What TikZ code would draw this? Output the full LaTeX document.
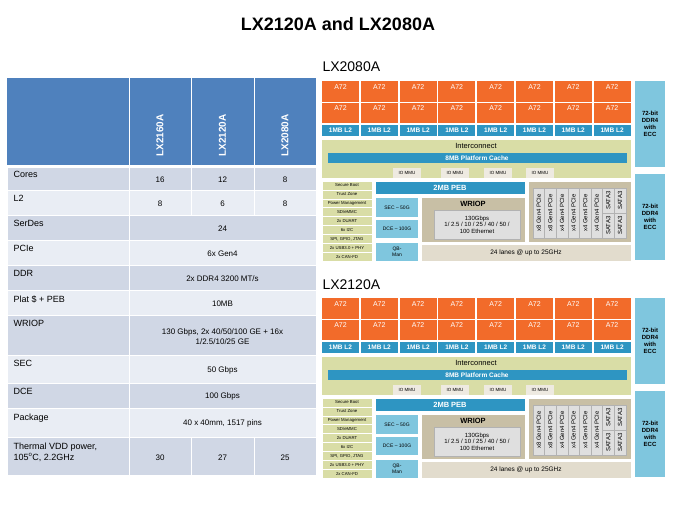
\documentclass[tikz,border=0pt]{standalone}
\usepackage{fontspec}
\setmainfont{Liberation Sans}
\definecolor{hdrblue}{HTML}{4F81BD}
\definecolor{rowdark}{HTML}{D0D7E5}
\definecolor{rowlight}{HTML}{E9EDF4}
\definecolor{coreorange}{HTML}{F26B2A}
\definecolor{cacheblue}{HTML}{2E95C2}
\definecolor{ddrblue}{HTML}{7FC6DE}
\definecolor{icgreen}{HTML}{D9DDA6}
\definecolor{iotan}{HTML}{C8BFA5}
\definecolor{lanegrey}{HTML}{E2DCCD}
\tikzset{
  cell/.style={draw=white, line width=1pt},
  wtxt/.style={text=white, font=\bfseries\fontsize{6.5}{7}\selectfont},
}
\newcommand{\chipblock}[1]{%
  \begin{scope}[yshift=#1]
    % cores and L2
    \foreach \i in {0,...,7} {
      \pgfmathsetmacro{\xa}{322+38.8*\i}
      \fill[coreorange] (\xa,81) rectangle ++(37,21);
      \fill[coreorange] (\xa,103) rectangle ++(37,20);
      \node[text=white, font=\fontsize{7}{8}\selectfont] at (\xa+18.5,87) {A72};
      \node[text=white, font=\fontsize{7}{8}\selectfont] at (\xa+18.5,108.5) {A72};
      \fill[cacheblue] (\xa,125) rectangle ++(37,11);
      \node[wtxt] at (\xa+18.5,130.5) {1MB L2};
    }
    % DDR
    \foreach \ya/\yb in {81/167, 174/260} {
      \fill[ddrblue] (635,\ya) rectangle (665,\yb);
      \node[align=center, font=\bfseries\fontsize{6}{7}\selectfont] at (650,{(\ya+\yb)/2}) {72-bit\\DDR4\\with\\ECC};
    }
    % interconnect
    \fill[icgreen] (322,140) rectangle (631,178);
    \node[font=\fontsize{7.5}{8}\selectfont] at (476,146) {Interconnect};
    \fill[cacheblue] (328,153) rectangle (627,163);
    \node[wtxt] at (477,158) {8MB Platform Cache};
    \foreach \xa in {393,441,484,526} {
      \fill[lanegrey!60] (\xa,168) rectangle ++(28,10);
      \node[font=\fontsize{4.5}{5}\selectfont] at (\xa+14,173) {IO MMU};
    }
    % left list
    \foreach \t [count=\k from 0] in {Secure Boot,Trust Zone,Power Management,SD/eMMC,2x DUART,6x I2C,{SPI, GPIO, JTAG},2x USB3.0 + PHY,2x CAN-FD} {
      \fill[icgreen, draw=white, line width=.6pt] (322,181+8.9*\k) rectangle ++(50,8.9);
      \node[font=\fontsize{4.3}{5}\selectfont] at (347,185.5+8.9*\k) {\t};
    }
    % PEB, SEC, DCE, QB
    \fill[cacheblue] (376,182) rectangle (525,194);
    \node[wtxt, font=\bfseries\fontsize{7.5}{8}\selectfont] at (450,188) {2MB PEB};
    \fill[ddrblue] (376,198) rectangle (418,217);
    \node[font=\fontsize{5}{6}\selectfont] at (397,207.5) {SEC -- 50G};
    \fill[ddrblue] (376,220) rectangle (418,238);
    \node[font=\fontsize{5}{6}\selectfont] at (397,229) {DCE -- 100G};
    \fill[ddrblue] (376,243) rectangle (418,261);
    \node[align=center, font=\fontsize{5}{6}\selectfont] at (397,252) {QB-\\Man};
    % WRIOP
    \fill[iotan] (422,198) rectangle (525,242);
    \node[font=\bfseries\fontsize{7.5}{8}\selectfont] at (473,203.5) {WRIOP};
    \fill[gray!25, draw=gray!60] (434,210) rectangle (520,239);
    \node[align=center, font=\fontsize{6}{6.5}\selectfont] at (477,224.5) {130Gbps\\1/ 2.5 / 10 / 25 / 40 / 50 /\\100 Ethernet};
    \fill[lanegrey] (422,245) rectangle (631,261);
    \node[font=\fontsize{6.5}{7}\selectfont] at (526,253) {24 lanes @ up to 25GHz};
    % PCIe / SATA
    \fill[iotan] (529,182) rectangle (631,242);
    \foreach \t [count=\k from 0] in {x8 Gen4 PCIe,x8 Gen4 PCIe,x4 Gen4 PCIe,x4 Gen4 PCIe,x4 Gen4 PCIe,x4 Gen4 PCIe} {
      \fill[gray!25, draw=gray!60] (533+11.6*\k,188) rectangle ++(11.6,50);
      \node[rotate=90, font=\fontsize{6}{7}\selectfont] at (538.8+11.6*\k,213) {\t};
    }
    \foreach \k in {6,7} {
      \foreach \ya in {188,213} {
        \fill[gray!25, draw=gray!60] (533+11.6*\k,\ya) rectangle ++(11.6,25);
        \node[rotate=90, font=\fontsize{6}{7}\selectfont] at (538.8+11.6*\k,\ya+12.5) {SATA3};
      }
    }
  \end{scope}}
\begin{document}
\begin{tikzpicture}[x=1pt, y=-1pt]
  \useasboundingbox (0,0) rectangle (675,506);
  \node[font=\bfseries\fontsize{18}{20}\selectfont] (title) at (338,24) {LX2120A and LX2080A};

  % table header
  \fill[hdrblue] (7,78) rectangle (316,165);
  \draw[white, line width=1pt] (129,78) -- (129,165) (191,78) -- (191,165) (254,78) -- (254,165);
  \foreach \x/\t in {160/LX2160A, 222.5/LX2120A, 285/LX2080A}
    \node[rotate=90, text=white, font=\bfseries\fontsize{10}{11}\selectfont, anchor=west] at (\x,160) {\t};

  % table rows
  \foreach \ya/\yb/\c in {167/190/rowdark,190/215/rowlight,215/240/rowdark,240/265/rowlight,265/290/rowdark,290/315/rowlight,315/355/rowdark,355/383/rowlight,383/408/rowdark,408/437/rowlight,437/475/rowdark} {
    \fill[\c, cell] (7,\ya) rectangle (129,\yb);
    \fill[\c, cell] (129,\ya) rectangle (316,\yb);
  }
  \foreach \ya/\yb in {167/190,190/215,437/475} {
    \draw[white, line width=1pt] (191,\ya) -- (191,\yb) (254,\ya) -- (254,\yb);
  }
  \tikzset{lbl/.style={anchor=north west, align=left, font=\fontsize{9}{11}\selectfont},
           val/.style={align=center, font=\fontsize{8}{10}\selectfont}}
  \node[lbl] at (10,168) {Cores};
  \node[lbl] at (10,192) {L2};
  \node[lbl] at (10,217) {SerDes};
  \node[lbl] at (10,242) {PCIe};
  \node[lbl] at (10,267) {DDR};
  \node[lbl] at (10,292) {Plat \$ + PEB};
  \node[lbl] at (10,317) {WRIOP};
  \node[lbl] at (10,357) {SEC};
  \node[lbl] at (10,385) {DCE};
  \node[lbl] at (10,410) {Package};
  \node[lbl] at (10,439) {Thermal VDD power,\\105\textsuperscript{o}C, 2.2GHz};
  \node[val] at (160,180) {16};  \node[val] at (222.5,180) {12}; \node[val] at (285,180) {8};
  \node[val] at (160,204) {8};   \node[val] at (222.5,204) {6};  \node[val] at (285,204) {8};
  \node[val] at (222.5,229) {24};
  \node[val] at (222.5,254) {6x Gen4};
  \node[val] at (222.5,279) {2x DDR4 3200 MT/s};
  \node[val] at (222.5,304) {10MB};
  \node[val] at (222.5,337) {130 Gbps, 2x 40/50/100 GE + 16x\\1/2.5/10/25 GE};
  \node[val] at (222.5,370) {50 Gbps};
  \node[val] at (222.5,396) {100 Gbps};
  \node[val] at (222.5,423) {40 x 40mm, 1517 pins};
  \node[val] at (160,458) {30};  \node[val] at (222.5,458) {27}; \node[val] at (285,458) {25};

  % block diagrams
  \node[anchor=west, font=\fontsize{14}{16}\selectfont] (lbla) at (319,67) {LX2080A};
  \chipblock{0pt}
  \node[anchor=west, font=\fontsize{14}{16}\selectfont] (lblb) at (319,285) {LX2120A};
  \chipblock{-217pt}
\end{tikzpicture}
\end{document}
